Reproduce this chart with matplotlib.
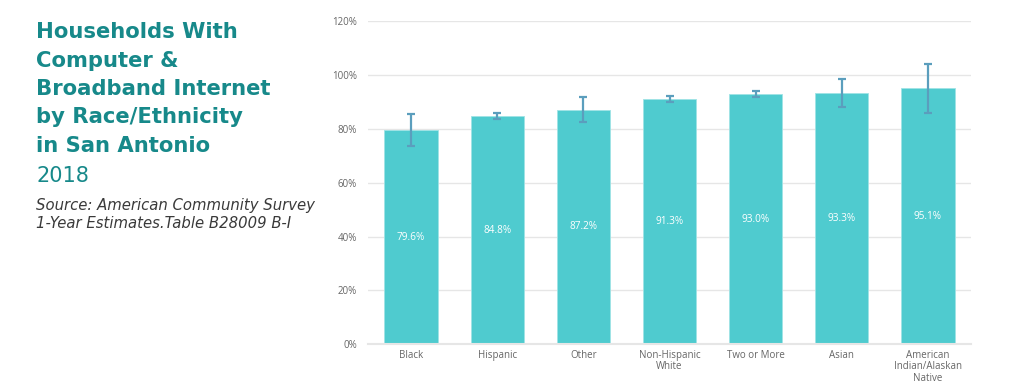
import matplotlib
matplotlib.use("Agg")
import matplotlib.pyplot as plt
from matplotlib.ticker import FuncFormatter

categories = ["Black", "Hispanic", "Other", "Non-Hispanic\nWhite", "Two or More",
              "Asian", "American\nIndian/Alaskan\nNative"]
values = [79.6, 84.8, 87.2, 91.3, 93.0, 93.3, 95.1]
err_low = [5.9, 1.2, 4.6, 1.2, 1.0, 5.1, 9.1]
err_high = [5.9, 1.1, 4.6, 1.1, 1.0, 5.1, 8.9]
value_labels = ["79.6%", "84.8%", "87.2%", "91.3%", "93.0%", "93.3%", "95.1%"]
yticks = [0, 20, 40, 60, 80, 100, 120]

title_lines = ["Households With", "Computer &", "Broadband Internet",
               "by Race/Ethnicity", "in San Antonio"]
year = "2018"
source_lines = ["Source: American Community Survey", "1-Year Estimates.Table B28009 B-I"]

BAR = "#4fcbcf"
ERR = "#5b9ebd"
TEAL = "#17898a"
GRID = "#e6e6e6"
TICK = "#666666"
FONT = "Open Sans"
TFONT = "DejaVu Sans"

fig = plt.figure(figsize=(10.24, 3.91), dpi=100)
ax = fig.add_axes([368/1024, (391-344.3)/391, (971-368)/1024, (344.3-21.3)/391])

x = list(range(len(categories)))
ax.bar(x, values, width=0.62, color=BAR, edgecolor="#9fe3e5", linewidth=0.6, zorder=2)
ax.errorbar(x, values, yerr=[err_low, err_high], fmt="none", ecolor=ERR,
            elinewidth=1.6, capsize=3, capthick=1.6, zorder=3)
for xi, v, lab in zip(x, values, value_labels):
    ax.text(xi, v / 2, lab, ha="center", va="center", color="white",
            fontsize=7.2, family=FONT, zorder=4)

ax.set_xlim(-0.5, len(categories) - 0.5)
ax.set_ylim(0, 120)
ax.set_yticks(yticks)
ax.yaxis.set_major_formatter(FuncFormatter(lambda v, p: f"{v:.0f}%"))
ax.set_xticks(x)
ax.set_xticklabels(categories, fontsize=7, color=TICK, family=FONT, linespacing=1.05)
for lab in ax.get_yticklabels():
    lab.set_fontsize(7)
    lab.set_color(TICK)
    lab.set_family(FONT)
ax.tick_params(axis="both", length=0)
ax.tick_params(axis="y", pad=8)
ax.tick_params(axis="x", pad=4)
ax.grid(axis="y", color=GRID, linewidth=1.0, zorder=0)
ax.set_axisbelow(True)
for s in ["top", "right", "left"]:
    ax.spines[s].set_visible(False)
ax.spines["bottom"].set_color(GRID)
ax.spines["bottom"].set_linewidth(1.5)

# Title block
y0 = 1 - 22.5/391
dy = 28.3/391
for i, line in enumerate(title_lines):
    fig.text(36/1024, y0 - i*dy, line, ha="left", va="top", color=TEAL,
             fontsize=15.2, fontweight="bold", family=TFONT)
fig.text(36/1024, 1 - 165.5/391, year, ha="left", va="top", color=TEAL,
         fontsize=15, family=TFONT)
for i, line in enumerate(source_lines):
    fig.text(36/1024, 1 - (198 + i*18.5)/391, line, ha="left", va="top", color="#3a3a3a",
             fontsize=10.7, style="italic", family=TFONT)

fig.savefig("out.png", dpi=100)
